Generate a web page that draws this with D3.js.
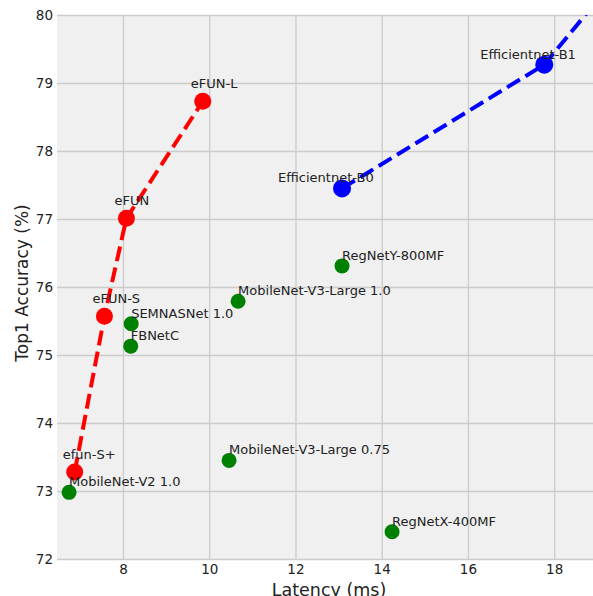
<!DOCTYPE html>
<html>
<head>
    <meta charset="utf-8">
    <title>Latency vs Top1 Accuracy</title>
    <style>
        body { margin: 0; background: #fff; }
        text { font-family: "DejaVu Sans", sans-serif; }
    </style>
    <script src="https://cdn.jsdelivr.net/npm/d3@7"></script>
</head>
<body>
<script type="text/javascript">

    // eFUN family (red, dashed)
    var efunNames   = ['efun-S+', 'eFUN-S', 'eFUN', 'eFUN-L'];
    var efunLatency = [6.88, 7.57, 8.08, 9.85];
    var efunAcc     = [73.28, 75.57, 77.01, 78.73];

    // EfficientNet family (blue, dashed) - last point sits past the top edge
    var effNames   = ['Efficientnet-B0', 'Efficientnet-B1', 'Efficientnet-B2'];
    var effLatency = [13.08, 17.77, 19.5];
    var effAcc     = [77.45, 79.27, 80.6];

    // other models (green)
    var otherNames   = ['MobileNet-V2 1.0', 'MobileNet-V3-Large 0.75', 'RegNetX-400MF',
                        'RegNetY-800MF', 'MobileNet-V3-Large 1.0', 'SEMNASNet 1.0', 'FBNetC'];
    var otherLatency = [6.75, 10.46, 14.24, 13.08, 10.67, 8.19, 8.18];
    var otherAcc     = [72.98, 73.45, 72.40, 76.31, 75.79, 75.46, 75.13];

    var xTicks = [8, 10, 12, 14, 16, 18];
    var yTicks = [72, 73, 74, 75, 76, 77, 78, 79, 80];

    var W = 593, H = 596;
    var mLeft = 57, mRight = 593, mTop = 15, mBottom = 559;

    var x = d3.scaleLinear().domain([6.47, 18.9]).range([mLeft, mRight]);
    var y = d3.scaleLinear().domain([72, 80]).range([mBottom, mTop]);

    function zip(names, xs, ys) {
        return names.map(function(n, i) { return {name: n, x: xs[i], y: ys[i]}; });
    }
    var efun = zip(efunNames, efunLatency, efunAcc);
    var eff = zip(effNames, effLatency, effAcc);
    var other = zip(otherNames, otherLatency, otherAcc);

    var svg = d3.select('body').append('svg')
        .attr('width', W)
        .attr('height', H);

    svg.append('defs').append('clipPath').attr('id', 'plotclip')
        .append('rect')
        .attr('x', mLeft).attr('y', mTop)
        .attr('width', mRight - mLeft).attr('height', mBottom - mTop);

    // background
    svg.append('rect')
        .attr('x', mLeft).attr('y', mTop)
        .attr('width', mRight - mLeft).attr('height', mBottom - mTop)
        .attr('fill', '#f0f0f0');

    // grid
    var xAxis = d3.axisBottom(x).tickValues(xTicks).tickSize(-(mBottom - mTop)).tickPadding(5);
    var yAxis = d3.axisLeft(y).tickValues(yTicks).tickSize(-(mRight - mLeft)).tickPadding(4);

    var gx = svg.append('g').attr('transform', 'translate(0,' + mBottom + ')').call(xAxis);
    var gy = svg.append('g').attr('transform', 'translate(' + mLeft + ',0)').call(yAxis);

    [gx, gy].forEach(function(g) {
        g.select('.domain').remove();
        g.selectAll('.tick line').attr('stroke', '#cbcbcb').attr('stroke-width', 1.3);
        g.selectAll('.tick text')
            .attr('fill', '#222')
            .style('font-size', '13.5px');
    });

    var plot = svg.append('g').attr('clip-path', 'url(#plotclip)');

    var line = d3.line()
        .x(function(d) { return x(d.x); })
        .y(function(d) { return y(d.y); });

    plot.append('path').datum(efun)
        .attr('d', line)
        .attr('fill', 'none')
        .attr('stroke', '#ff0000')
        .attr('stroke-width', 4)
        .attr('stroke-dasharray', '15,6.5');

    plot.append('path').datum(eff)
        .attr('d', line)
        .attr('fill', 'none')
        .attr('stroke', '#0000ff')
        .attr('stroke-width', 4)
        .attr('stroke-dasharray', '15,6.5');

    function dots(data, color, r) {
        plot.selectAll(null)
            .data(data)
            .enter()
            .append('circle')
            .attr('cx', function(d) { return x(d.x); })
            .attr('cy', function(d) { return y(d.y); })
            .attr('r', r)
            .attr('fill', color);
    }
    dots(other, '#008000', 7.5);
    dots(efun, '#ff0000', 8.5);
    dots(eff, '#0000ff', 9);

    function labels(data, dx, dy) {
        svg.selectAll(null)
            .data(data)
            .enter()
            .append('text')
            .attr('x', function(d) { return x(d.x) + dx; })
            .attr('y', function(d) { return y(d.y) + dy; })
            .attr('fill', '#222')
            .style('font-size', '13px')
            .text(function(d) { return d.name; });
    }
    labels(other, 0, -6);
    labels(efun, -12, -13);
    labels(eff, -64, -6);

    // axis titles
    svg.append('text')
        .attr('x', 329)
        .attr('y', 595.5)
        .attr('text-anchor', 'middle')
        .attr('fill', '#222')
        .style('font-size', '17.5px')
        .text('Latency (ms)');

    svg.append('text')
        .attr('transform', 'translate(28,283) rotate(-90)')
        .attr('text-anchor', 'middle')
        .attr('fill', '#222')
        .style('font-size', '17px')
        .text('Top1 Accuracy (%)');

</script>
</body>
</html>
